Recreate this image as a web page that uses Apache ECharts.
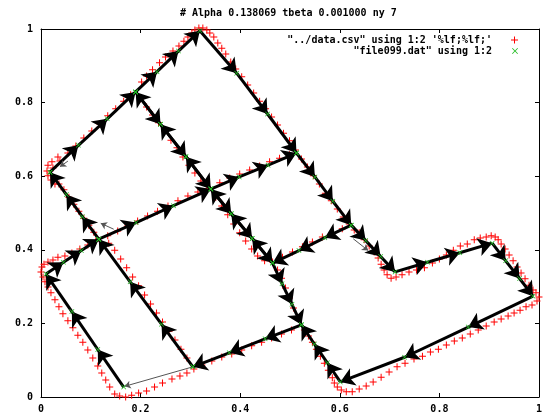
<!DOCTYPE html>
<html>
<head>
<meta charset="utf-8">
<script src="https://cdn.jsdelivr.net/npm/echarts@6/dist/echarts.min.js"></script>
<style>
  html, body { margin: 0; padding: 0; background: #fff; }
  #chart { width: 545px; height: 417px; }
</style>
</head>
<body>
<div id="chart"></div>
<script>
// labels
const titleText = '# Alpha 0.138069 tbeta 0.001000 ny 7';
const csvName = '"../data.csv" using 1:2 \'%lf;%lf;\'';
const datName = '"file099.dat" using 1:2';
const tickValues = [0, 0.2, 0.4, 0.6, 0.8, 1];

// data.csv points (red +)
const csvCornerC = [[0.022,0.639],[0.034,0.652],[0.014,0.630],[0.024,0.622],[0.012,0.614],[0.014,0.601],[0.020,0.590],[0.028,0.579]];
const csvEdgeCB = [[0.038,0.641],[0.054,0.663],[0.070,0.682],[0.086,0.704],[0.102,0.723],[0.118,0.742],[0.134,0.764],[0.150,0.783],[0.166,0.804],[0.180,0.821]];
const csvEdgeBA = [[0.202,0.856],[0.212,0.872],[0.224,0.889],[0.238,0.908],[0.250,0.924],[0.265,0.940],[0.277,0.954],[0.287,0.967],[0.295,0.978],[0.303,0.989],[0.309,0.997],[0.317,1.003],[0.325,1.003],[0.333,0.997],[0.339,0.989],[0.347,0.978],[0.355,0.962],[0.363,0.948],[0.371,0.932]];
const csvEdgeAJ = [[0.381,0.910],[0.391,0.891],[0.403,0.870],[0.415,0.848],[0.427,0.826],[0.439,0.804],[0.451,0.783],[0.463,0.761],[0.475,0.739],[0.487,0.717],[0.499,0.696],[0.511,0.671],[0.523,0.647],[0.535,0.625],[0.547,0.601],[0.559,0.579],[0.571,0.554],[0.583,0.533],[0.595,0.511],[0.607,0.489],[0.619,0.470],[0.629,0.454]];
const csvEdgeJK = [[0.639,0.446],[0.649,0.427],[0.659,0.410],[0.669,0.394],[0.677,0.378],[0.683,0.361],[0.689,0.345],[0.695,0.332],[0.703,0.323]];
const csvEdgeKR = [[0.713,0.326],[0.725,0.332],[0.739,0.340],[0.754,0.345],[0.770,0.351],[0.786,0.364],[0.800,0.375],[0.814,0.386],[0.828,0.399],[0.842,0.410],[0.856,0.416],[0.870,0.427],[0.882,0.432],[0.894,0.435],[0.904,0.438],[0.912,0.435],[0.918,0.427],[0.924,0.416],[0.932,0.402],[0.940,0.386],[0.948,0.370],[0.956,0.353],[0.964,0.337],[0.972,0.321],[0.980,0.304],[0.988,0.291],[0.994,0.283],[1.000,0.272],[0.996,0.261],[0.986,0.250],[0.974,0.245],[0.962,0.236],[0.950,0.228],[0.938,0.220],[0.924,0.212]];
const csvEdgeRG = [[0.910,0.204],[0.894,0.193],[0.878,0.182],[0.862,0.171],[0.846,0.160],[0.830,0.152],[0.814,0.141],[0.798,0.130],[0.782,0.122],[0.766,0.111],[0.749,0.103],[0.731,0.092],[0.715,0.082],[0.699,0.068],[0.683,0.054],[0.667,0.041],[0.653,0.030],[0.639,0.022],[0.625,0.014],[0.613,0.014],[0.603,0.019],[0.595,0.027],[0.589,0.038],[0.585,0.052]];
const csvEdgeGH = [[0.577,0.073],[0.569,0.092],[0.561,0.111],[0.553,0.130],[0.545,0.149],[0.537,0.166],[0.529,0.182]];
const csvEdgeHI = [[0.515,0.215],[0.507,0.242],[0.499,0.269],[0.491,0.296],[0.483,0.323],[0.475,0.345],[0.465,0.367]];
const csvEdgeHE = [[0.503,0.182],[0.483,0.171],[0.463,0.160],[0.443,0.149],[0.423,0.139],[0.403,0.128],[0.383,0.117],[0.363,0.109],[0.343,0.098],[0.323,0.087],[0.307,0.076],[0.293,0.065],[0.279,0.057],[0.263,0.049],[0.244,0.038],[0.228,0.027],[0.212,0.016],[0.196,0.011],[0.182,0.005],[0.170,0.000],[0.158,0.003],[0.148,0.008]];
const csvEdgeED = [[0.138,0.027],[0.130,0.046],[0.122,0.065],[0.114,0.084],[0.104,0.106],[0.094,0.128],[0.084,0.149],[0.074,0.168],[0.064,0.188],[0.054,0.207],[0.044,0.226],[0.036,0.245],[0.028,0.264],[0.020,0.283],[0.014,0.299],[0.008,0.313],[0.004,0.326],[0.000,0.340],[0.002,0.353],[0.006,0.361],[0.014,0.367],[0.024,0.372],[0.034,0.380]];
const csvEdgeDN = [[0.048,0.383],[0.062,0.391],[0.078,0.402],[0.094,0.413],[0.110,0.424]];
const csvEdgeNC = [[0.106,0.448],[0.096,0.467],[0.086,0.486],[0.076,0.505],[0.066,0.524],[0.056,0.543],[0.046,0.563],[0.036,0.579]];
const csvEdgeNL = [[0.134,0.438],[0.154,0.451],[0.174,0.465],[0.194,0.478],[0.214,0.492],[0.234,0.505],[0.255,0.519],[0.275,0.533],[0.295,0.546],[0.315,0.557],[0.333,0.565]];
const csvEdgeLM = [[0.359,0.582],[0.379,0.595],[0.399,0.606],[0.419,0.617],[0.439,0.628],[0.459,0.639],[0.479,0.649],[0.499,0.658]];
const csvEdgeBL = [[0.200,0.810],[0.212,0.788],[0.224,0.766],[0.236,0.745],[0.248,0.723],[0.261,0.698],[0.273,0.677],[0.285,0.652],[0.297,0.630],[0.309,0.609],[0.321,0.587]];
const csvEdgeLI = [[0.351,0.543],[0.363,0.519],[0.375,0.495],[0.387,0.470],[0.399,0.446],[0.411,0.424],[0.423,0.402],[0.435,0.383],[0.449,0.370]];
const csvEdgeIJ = [[0.485,0.380],[0.505,0.394],[0.525,0.408],[0.545,0.421],[0.565,0.435],[0.585,0.446],[0.605,0.457]];
const csvEdgeFN = [[0.293,0.106],[0.281,0.130],[0.269,0.155],[0.257,0.179],[0.244,0.204],[0.232,0.228],[0.220,0.253],[0.208,0.277],[0.196,0.302],[0.184,0.326],[0.172,0.351],[0.160,0.375],[0.148,0.399],[0.136,0.418]];

// file099.dat points (green x), in drawing order; consecutive points are joined by arrows
const pathOuter = [[0.018,0.611],[0.075,0.684],[0.133,0.756],[0.190,0.829],[0.233,0.884],[0.276,0.940],[0.319,0.995],[0.393,0.880],[0.455,0.769],[0.513,0.663],[0.550,0.598],[0.586,0.532],[0.623,0.467],[0.652,0.425],[0.682,0.382],[0.711,0.340],[0.776,0.366],[0.841,0.392],[0.906,0.418],[0.933,0.370],[0.961,0.322],[0.988,0.274],[0.858,0.190],[0.730,0.108],[0.601,0.041],[0.575,0.093],[0.549,0.144],[0.523,0.196],[0.450,0.158],[0.378,0.120],[0.305,0.082]];
const pathLeft = [[0.166,0.027],[0.114,0.129],[0.062,0.232],[0.010,0.334],[0.045,0.366],[0.081,0.398],[0.116,0.429],[0.083,0.490],[0.051,0.550],[0.018,0.611]];
const pathMid = [[0.116,0.429],[0.191,0.474],[0.266,0.520],[0.341,0.565],[0.398,0.598],[0.456,0.630],[0.513,0.663]];
const pathBack = [[0.623,0.467],[0.570,0.433],[0.518,0.398],[0.465,0.364],[0.424,0.431],[0.382,0.498],[0.341,0.565],[0.291,0.653],[0.240,0.741],[0.190,0.829]];
const pathDown = [[0.190,0.829],[0.240,0.741],[0.291,0.653],[0.341,0.565],[0.382,0.498],[0.424,0.431],[0.465,0.364],[0.484,0.308],[0.504,0.252],[0.523,0.196]];
const pathUp = [[0.305,0.082],[0.242,0.198],[0.179,0.313],[0.116,0.429]];

// the few thin grey vectors
const thinVectors = [
  [[0.305,0.082],[0.168,0.029]],
  [[0.146,0.456],[0.120,0.472]],
  [[0.054,0.641],[0.038,0.626]],
  [[0.627,0.430],[0.657,0.398]]
];

const plusPath = 'path://M3,0L4,0L4,3L7,3L7,4L4,4L4,7L3,7L3,4L0,4L0,3L3,3Z';
const crossPath = 'path://M0,1L1,0L5,4L9,0L10,1L6,5L10,9L9,10L5,6L1,10L0,9L4,5Z';
const font = 'DejaVu Sans Mono';

const csvPoints = [].concat(csvCornerC, csvEdgeCB, csvEdgeBA, csvEdgeAJ, csvEdgeJK, csvEdgeKR,
  csvEdgeRG, csvEdgeGH, csvEdgeHI, csvEdgeHE, csvEdgeED, csvEdgeDN, csvEdgeNC,
  csvEdgeNL, csvEdgeLM, csvEdgeBL, csvEdgeLI, csvEdgeIJ, csvEdgeFN);

const paths = [pathOuter, pathLeft, pathMid, pathBack, pathDown, pathUp];
let vectors = [];
let datPoints = [];
paths.forEach(p => {
  datPoints = datPoints.concat(p);
  for (let i = 1; i < p.length; i++) {
    vectors.push({coords: [p[i - 1], p[i]]});
  }
});

let chart = echarts.init(document.getElementById('chart'), null, {renderer: 'canvas'});

let axisBase = {
  type: 'value',
  min: 0,
  max: 1,
  interval: 0.2,
  splitLine: {show: false},
  axisLine: {show: true, onZero: false, lineStyle: {color: '#000', width: 1}},
  axisTick: {show: true, inside: true, length: 4, lineStyle: {color: '#000'}},
};

let labelStyle = {color: '#000', fontFamily: font, fontWeight: 'bold', fontSize: 10};

chart.setOption({
  animation: false,
  backgroundColor: '#fff',
  title: {
    text: titleText,
    left: 180,
    top: 8,
    padding: 0,
    textStyle: {color: '#000', fontFamily: font, fontWeight: 'bold', fontSize: 10}
  },
  legend: [
    {
      data: [{name: csvName, icon: plusPath}],
      right: 27, top: 35, padding: 0,
      align: 'right', itemWidth: 7, itemHeight: 7,
      selectedMode: false,
      textStyle: Object.assign({padding: [0, 14, 0, 0]}, labelStyle)
    },
    {
      data: [{name: datName, icon: crossPath}],
      right: 27, top: 46, padding: 0,
      align: 'right', itemWidth: 6, itemHeight: 6,
      selectedMode: false,
      textStyle: Object.assign({padding: [0, 15, 0, 0]}, labelStyle)
    }
  ],
  grid: {left: 41, right: 5, top: 29, bottom: 20, containLabel: false},
  xAxis: [
    Object.assign({}, axisBase, {
      position: 'bottom',
      axisLabel: Object.assign({margin: 7, formatter: v => tickValues.includes(+v.toFixed(1)) ? String(+v.toFixed(1)) : ''}, labelStyle)
    }),
    Object.assign({}, axisBase, {position: 'top', axisLabel: {show: false}})
  ],
  yAxis: [
    Object.assign({}, axisBase, {
      position: 'left',
      axisLabel: Object.assign({margin: 8}, labelStyle)
    }),
    Object.assign({}, axisBase, {position: 'right', axisLabel: {show: false}})
  ],
  series: [
    {
      name: csvName,
      type: 'scatter',
      clip: false,
      z: 1,
      symbol: plusPath,
      symbolSize: 7,
      itemStyle: {color: '#ff0000', opacity: 1},
      data: csvPoints
    },
    {
      type: 'lines',
      coordinateSystem: 'cartesian2d',
      silent: true,
      z: 2,
      symbol: ['none', 'arrow'],
      symbolSize: [10, 14],
      lineStyle: {color: '#000', width: 3, opacity: 1},
      data: vectors
    },
    {
      type: 'lines',
      coordinateSystem: 'cartesian2d',
      silent: true,
      z: 2,
      symbol: ['none', 'arrow'],
      symbolSize: 6,
      lineStyle: {color: '#555', width: 1, opacity: 1},
      data: thinVectors.map(c => ({coords: c}))
    },
    {
      name: datName,
      type: 'scatter',
      clip: false,
      z: 3,
      symbol: crossPath,
      symbolSize: 5,
      itemStyle: {color: '#22bb22', opacity: 1},
      data: datPoints
    }
  ]
});
</script>
</body>
</html>
